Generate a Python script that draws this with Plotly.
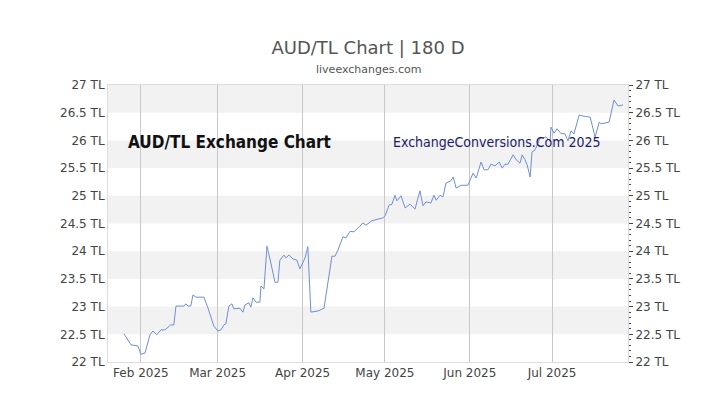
import pandas as pd
import plotly.graph_objects as go

day_offsets = [-6.2,-3.6,-1.1,0,1.5,3.3,4.4,5.8,7.3,8.8,10.9,12.0,12.8,15.7,16.4,17.2,18.2,19.0,20.1,23.0,24.5,26.6,28.1,29.2,30.3,31.0,32.1,33.2,33.9,36.1,37.2,38.0,39.4,40.1,40.9,42.0,43.4,43.8,44.9,46.0,47.4,48.9,50.0,50.7,52.2,52.9,54.0,55.5,56.9,58.0,59.9,60.9,62.0,64.6,66.8,68.2,69.7,70.8,71.9,73.7,74.8,76.3,77.7,79.2,81.0,82.1,84.3,86.5,88.3,89.1,90.5,91.6,92.7,93.4,94.9,96.4,98.2,100.0,101.8,102.9,104.0,105.8,106.9,107.7,109.1,110.2,111.3,113.1,113.9,115.0,116.8,119.3,120.1,121.2,122.3,124.1,125.2,126.6,127.7,129.2,130.7,131.8,132.8,133.9,135.8,136.9,138.3,139.1,140.1,140.9,142.0,142.7,143.8,145.6,147.8,149.3,149.6,150.7,151.8,153.3,154.7,155.8,156.9,158.0,159.9,161.3,163.9,165.7,167.2,167.9,170.8,172.6,174.1,175.9]
rates = [22.51,22.31,22.29,22.14,22.16,22.49,22.56,22.49,22.58,22.58,22.67,22.67,23.01,23.01,23.05,23.01,23.01,23.21,23.17,23.17,22.97,22.65,22.56,22.58,22.67,22.69,23.01,23.05,22.96,22.97,22.90,23.03,23.07,22.99,23.16,23.08,23.08,23.37,23.32,24.09,23.79,23.44,23.44,23.84,23.93,23.88,23.93,23.86,23.84,23.68,23.88,24.08,22.90,22.92,22.97,23.46,23.91,23.91,24.02,24.26,24.24,24.36,24.35,24.42,24.51,24.47,24.55,24.58,24.60,24.64,24.83,24.85,25.01,24.91,25.00,24.78,24.85,24.76,25.09,24.82,24.89,24.87,25.01,24.92,25.01,24.98,25.23,25.27,25.34,25.14,25.19,25.19,25.27,25.41,25.32,25.61,25.47,25.47,25.57,25.54,25.61,25.50,25.57,25.57,25.74,25.65,25.59,25.74,25.65,25.56,25.34,25.79,25.83,26.04,26.06,25.99,26.24,26.13,26.21,26.12,26.12,25.99,26.17,26.12,26.46,26.44,26.42,26.06,26.33,26.30,26.33,26.73,26.62,26.64]
month_ticks = ["2025-02-01","2025-03-01","2025-04-01","2025-05-01","2025-06-01","2025-07-01"]
month_labels = ["Feb 2025","Mar 2025","Apr 2025","May 2025","Jun 2025","Jul 2025"]
y_ticks = [22,22.5,23,23.5,24,24.5,25,25.5,26,26.5,27]
y_labels = [f"{v:g} TL" for v in y_ticks]

base = pd.Timestamp("2025-02-01")
dates = [base + pd.Timedelta(days=d) for d in day_offsets]

fig = go.Figure()
fig.add_trace(go.Scatter(x=dates, y=rates, mode="lines",
                         line=dict(color="#6f8fd8", width=1), hoverinfo="skip"))
fig.add_trace(go.Scatter(x=dates, y=rates, yaxis="y2", mode="lines",
                         line=dict(width=0), opacity=0, hoverinfo="skip"))

for lo in [22.5,23.5,24.5,25.5,26.5]:
    fig.add_shape(type="rect", xref="paper", x0=0, x1=1, yref="y", y0=lo, y1=lo+0.5,
                  fillcolor="#f2f2f2", line_width=0, layer="below")

xr = [base + pd.Timedelta(days=-12.0), base + pd.Timedelta(days=177.7)]
cond = "Liberation Sans Narrow, DejaVu Sans Condensed, sans-serif"
fig.update_layout(
    width=720, height=405, showlegend=False,
    margin=dict(l=100, r=100, t=77, b=51, autoexpand=False),
    paper_bgcolor="white", plot_bgcolor="white",
    font=dict(family="DejaVu Sans", color="#444"),
    title=dict(text="AUD/TL Chart | 180 D", x=0.5, xanchor="center", y=(405-40)/405, yanchor="middle",
               font=dict(size=18, color="#555")),
    xaxis=dict(range=xr, tickvals=month_ticks, ticktext=month_labels, showgrid=True, automargin=False,
               gridcolor="#c8c8c8", gridwidth=1, showline=True, linecolor="#ddd", mirror=True,
               tickfont=dict(size=12, color="#444"), ticks="", zeroline=False),
    yaxis=dict(range=[22,27], tickvals=y_ticks, ticktext=y_labels, showgrid=False, automargin=False,
               tickfont=dict(size=12, color="#444"), zeroline=False, ticks="",
               showline=True, linecolor="#ddd"),
    yaxis2=dict(range=[22,27], overlaying="y", side="right", tickvals=y_ticks, ticktext=y_labels,
                showgrid=False, tickfont=dict(size=12, color="#444"), zeroline=False, automargin=False,
                ticks="outside", ticklen=4, tickcolor="#444",
                minor=dict(dtick=0.1, ticks="outside", ticklen=2, tickcolor="#444"),
                showline=True, linecolor="#ddd"),
    annotations=[
        dict(text="liveexchanges.com", xref="paper", yref="paper", x=0.5, y=(405-62-77+77)/405 * 0 + (277+15)/277,
             yanchor="middle", showarrow=False, font=dict(size=11, color="#555")),
        dict(text="<b>AUD/TL Exchange Chart</b>", xref="paper", yref="y", x=0.035, y=25.98,
             xanchor="left", showarrow=False,
             font=dict(family=cond, size=17, color="#111")),
        dict(text="ExchangeConversions.Com 2025", xref="paper", yref="y", x=0.545, y=25.98,
             xanchor="left", showarrow=False,
             font=dict(family=cond, size=14, color="#1a1a6e")),
    ],
)
fig.write_html("out.html")
